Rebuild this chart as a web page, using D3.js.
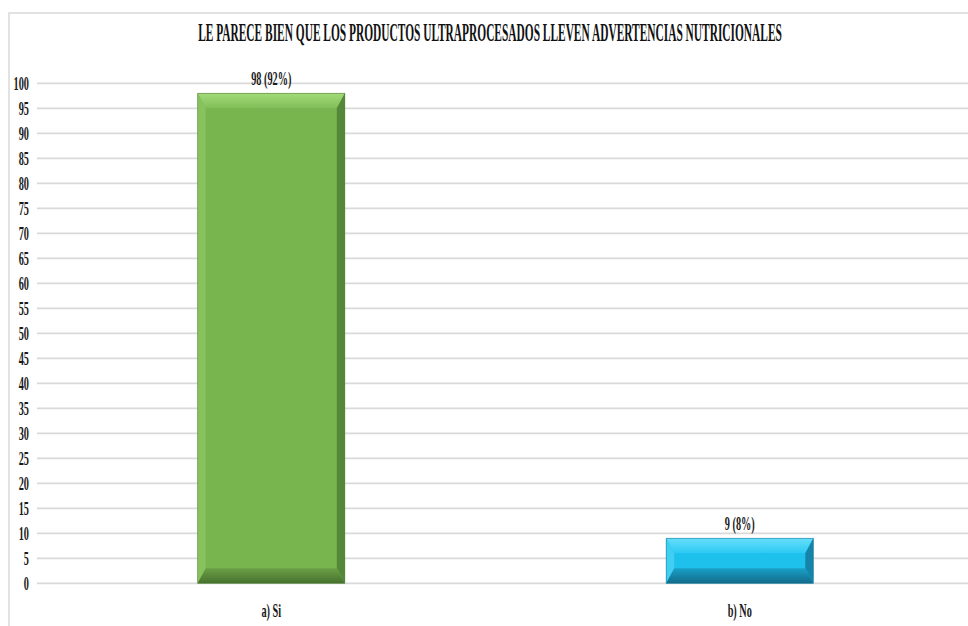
<!DOCTYPE html>
<html><head><meta charset="utf-8">
<script src="https://cdn.jsdelivr.net/npm/d3@7"></script>
<style>body{margin:0;background:#fff}svg{display:block}</style>
</head><body>
<svg id="c" width="968" height="626"></svg>
<script>
const title = "LE PARECE BIEN QUE LOS PRODUCTOS ULTRAPROCESADOS LLEVEN ADVERTENCIAS NUTRICIONALES";
const categories = ["a) Si", "b) No"];
const values = [98, 9];
const valueLabels = ["98 (92%)", "9 (8%)"];
const yTicks = [0,5,10,15,20,25,30,35,40,45,50,55,60,65,70,75,80,85,90,95,100];
const palettes = [
  {main:"#79b54f", topA:"#a3da7a", topB:"#80be57", left:"#87c35d", right:"#55873a", botA:"#6b9f45", botB:"#47722f"},
  {main:"#1ec0ec", topA:"#66defb", topB:"#2cc9f3", left:"#41cef3", right:"#1684a8", botA:"#1aa0c8", botB:"#126b8a"}
];

const svg = d3.select("#c");
const FONT = "'Liberation Serif','Times New Roman',serif";
const K = 0.54;
function squish(sel, k){
  sel.each(function(){
    const len = this.getComputedTextLength();
    d3.select(this).attr("textLength", len*k).attr("lengthAdjust","spacingAndGlyphs");
  });
}

// outer border
svg.append("rect").attr("x",9).attr("y",13).attr("width",980).attr("height",640)
  .attr("fill","none").attr("stroke","#d9d9d9").attr("stroke-width",1.5);

const y = d3.scaleLinear().domain([0,100]).range([583.3,83.3]);
const x = d3.scaleBand().domain(categories).range([37,974]).paddingInner(0.686).paddingOuter(0.343);

// gridlines
svg.append("g").selectAll("line").data(yTicks).join("line")
  .attr("x1",37).attr("x2",968).attr("y1",d=>y(d)).attr("y2",d=>y(d))
  .attr("stroke","#d9d9d9").attr("stroke-width",1.8);

// y axis labels
const yl = svg.append("g").selectAll("text").data(yTicks).join("text")
  .attr("x",29).attr("y",d=>y(d)).attr("dy","0.36em").attr("text-anchor","end")
  .attr("font-family",FONT).attr("font-weight","bold").attr("font-size",19).attr("fill","#1a1a1a")
  .text(d=>d);
squish(yl,K);

// defs gradients
const defs = svg.append("defs");
palettes.forEach((p,i)=>{
  const gt = defs.append("linearGradient").attr("id","gt"+i).attr("x1",0).attr("y1",0).attr("x2",0).attr("y2",1);
  gt.append("stop").attr("offset","0%").attr("stop-color",p.topA);
  gt.append("stop").attr("offset","100%").attr("stop-color",p.topB);
  const gb = defs.append("linearGradient").attr("id","gb"+i).attr("x1",0).attr("y1",0).attr("x2",0).attr("y2",1);
  gb.append("stop").attr("offset","0%").attr("stop-color",p.botA);
  gb.append("stop").attr("offset","100%").attr("stop-color",p.botB);
});

const BH = 8, BV = 15;
const bars = svg.append("g").selectAll("g").data(categories.map((c,i)=>({c,v:values[i],i}))).join("g");
bars.each(function(d){
  const g = d3.select(this);
  const x0 = x(d.c), x1 = x0 + x.bandwidth(), y0 = y(d.v), y1 = y(0);
  const p = palettes[d.i];
  const bv = Math.min(BV, (y1-y0)/3);
  g.append("rect").attr("x",x0).attr("y",y0).attr("width",x1-x0).attr("height",y1-y0).attr("fill",p.main);
  const pts = a => a.map(q=>q.join(",")).join(" ");
  g.append("polygon").attr("points",pts([[x0,y0],[x1,y0],[x1-BH,y0+bv],[x0+BH,y0+bv]])).attr("fill",`url(#gt${d.i})`);
  g.append("polygon").attr("points",pts([[x0,y0],[x0+BH,y0+bv],[x0+BH,y1-bv],[x0,y1]])).attr("fill",p.left);
  g.append("polygon").attr("points",pts([[x1,y0],[x1,y1],[x1-BH,y1-bv],[x1-BH,y0+bv]])).attr("fill",p.right);
  g.append("polygon").attr("points",pts([[x0,y1],[x0+BH,y1-bv],[x1-BH,y1-bv],[x1,y1]])).attr("fill",`url(#gb${d.i})`);
  g.append("rect").attr("x",x0).attr("y",y0).attr("width",x1-x0).attr("height",y1-y0)
    .attr("fill","none").attr("stroke",p.botB).attr("stroke-width",0.8).attr("stroke-opacity",0.6);
});

// value labels
const vl = svg.append("g").selectAll("text").data(categories).join("text")
  .attr("x",d=>x(d)+x.bandwidth()/2).attr("y",(d,i)=>y(values[i])-8).attr("text-anchor","middle")
  .attr("font-family",FONT).attr("font-weight","bold").attr("font-size",19).attr("fill","#1a1a1a")
  .text((d,i)=>valueLabels[i]);
squish(vl,K);

// category labels
const cl = svg.append("g").selectAll("text").data(categories).join("text")
  .attr("x",d=>x(d)+x.bandwidth()/2).attr("y",617).attr("text-anchor","middle")
  .attr("font-family",FONT).attr("font-weight","bold").attr("font-size",19).attr("fill","#1a1a1a")
  .text(d=>d);
squish(cl,K);

// title (horizontally condensed via transform)
const tg = svg.append("g");
const tt = tg.append("text").attr("x",0).attr("y",0).attr("text-anchor","middle")
  .attr("font-family",FONT).attr("font-weight","bold").attr("font-size",25).attr("fill","#111")
  .text(title);
const tlen = tt.node().getComputedTextLength();
tg.attr("transform",`translate(490,41) scale(${584/tlen},1)`);
</script>
</body></html>
